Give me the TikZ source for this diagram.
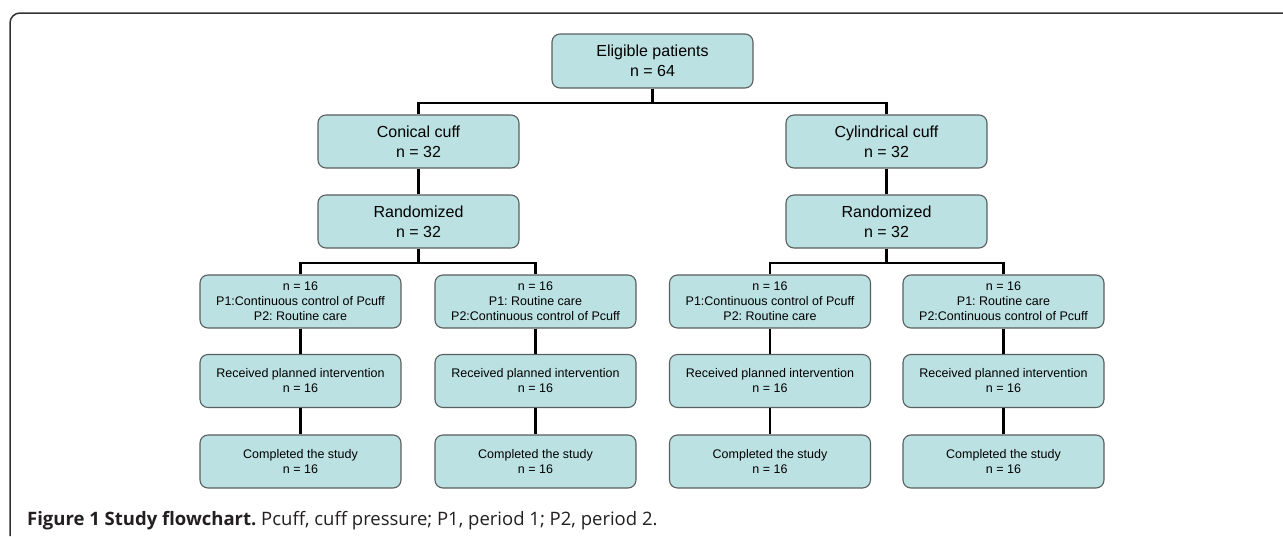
\documentclass[tikz,border=0pt]{standalone}
\usepackage{fontspec}
\setmainfont{Liberation Sans}
\newfontfamily\capfont{Open Sans}
\frenchspacing
\begin{document}
\begin{tikzpicture}[x=1pt,y=-1pt,
  box/.style={draw=boxborder, line width=1.1pt, fill=boxfill, rounded corners=8pt,
    minimum width=201pt, minimum height=53pt, align=center, inner sep=0pt, text=black},
  bigbox/.style={box, font=\fontsize{16}{20}\selectfont},
  smallbox/.style={box, font=\fontsize{12.5}{15}\selectfont},
  conn/.style={draw=black, line width=2.8pt},
  frame/.style={draw=framegray, line width=1.5pt, rounded corners=10pt}]
\definecolor{boxfill}{HTML}{BCE1E3}
\definecolor{boxborder}{HTML}{5A5F60}
\definecolor{framegray}{HTML}{333333}
\definecolor{captext}{HTML}{231F20}
\useasboundingbox[fill=white] (0,0) rectangle (1283,536);
\draw[frame] (10,536) -- (10,13) -- (1283,13);

\node[bigbox, minimum height=54pt] (elig) at (652.5,61) {Eligible patients\\n = 64};
\node[bigbox] (con) at (418.5,141.5) {Conical cuff\\n = 32};
\node[bigbox] (cyl) at (886.5,141.5) {Cylindrical cuff\\n = 32};
\node[bigbox] (ranl) at (418.5,221.5) {Randomized\\n = 32};
\node[bigbox] (ranr) at (886.5,221.5) {Randomized\\n = 32};

\node[smallbox] (a1) at (300.5,301.5) {n = 16\\P1:Continuous control of Pcuff\\P2: Routine care};
\node[smallbox] (b1) at (535.5,301.5) {n = 16\\P1: Routine care\\P2:Continuous control of Pcuff};
\node[smallbox] (c1) at (770,301.5) {n = 16\\P1:Continuous control of Pcuff\\P2: Routine care};
\node[smallbox] (d1) at (1003.5,301.5) {n = 16\\P1: Routine care\\P2:Continuous control of Pcuff};

\node[smallbox] (a2) at (300.5,381) {Received planned intervention\\n = 16};
\node[smallbox] (b2) at (535.5,381) {Received planned intervention\\n = 16};
\node[smallbox] (c2) at (770,381) {Received planned intervention\\n = 16};
\node[smallbox] (d2) at (1003.5,381) {Received planned intervention\\n = 16};

\node[smallbox] (a3) at (300.5,461.5) {Completed the study\\n = 16};
\node[smallbox] (b3) at (535.5,461.5) {Completed the study\\n = 16};
\node[smallbox] (c3) at (770,461.5) {Completed the study\\n = 16};
\node[smallbox] (d3) at (1003.5,461.5) {Completed the study\\n = 16};

\coordinate (topj) at (652.5,103);
\coordinate (lj) at (418.5,263);
\coordinate (rj) at (886.5,263);

\draw[conn] (elig.south) -- (topj);
\draw[conn] (con.north) |- (topj) -| (cyl.north);
\draw[conn] (con.south) -- (ranl.north);
\draw[conn] (cyl.south) -- (ranr.north);
\draw[conn] (ranl.south) -- (lj);
\draw[conn] (ranr.south) -- (rj);
\draw[conn] (a1.north) |- (lj) -| (b1.north);
\draw[conn] (c1.north) |- (rj) -| (d1.north);
\draw[conn] (a1.south) -- (a2.north);
\draw[conn] (b1.south) -- (b2.north);
\draw[conn] (c1.south) -- (c2.north);
\draw[conn] (d1.south) -- (d2.north);
\draw[conn] (a2.south) -- (a3.north);
\draw[conn] (b2.south) -- (b3.north);
\draw[conn] (c2.south) -- (c3.north);
\draw[conn] (d2.south) -- (d3.north);

\node[anchor=base west, inner sep=0pt, text=captext, font=\capfont\fontsize{18.5}{22}\selectfont] (cap) at (27,525)
  {\textbf{Figure 1 Study flowchart.} Pcuff, cuff pressure; P1, period 1; P2, period 2.};
\end{tikzpicture}
\end{document}
